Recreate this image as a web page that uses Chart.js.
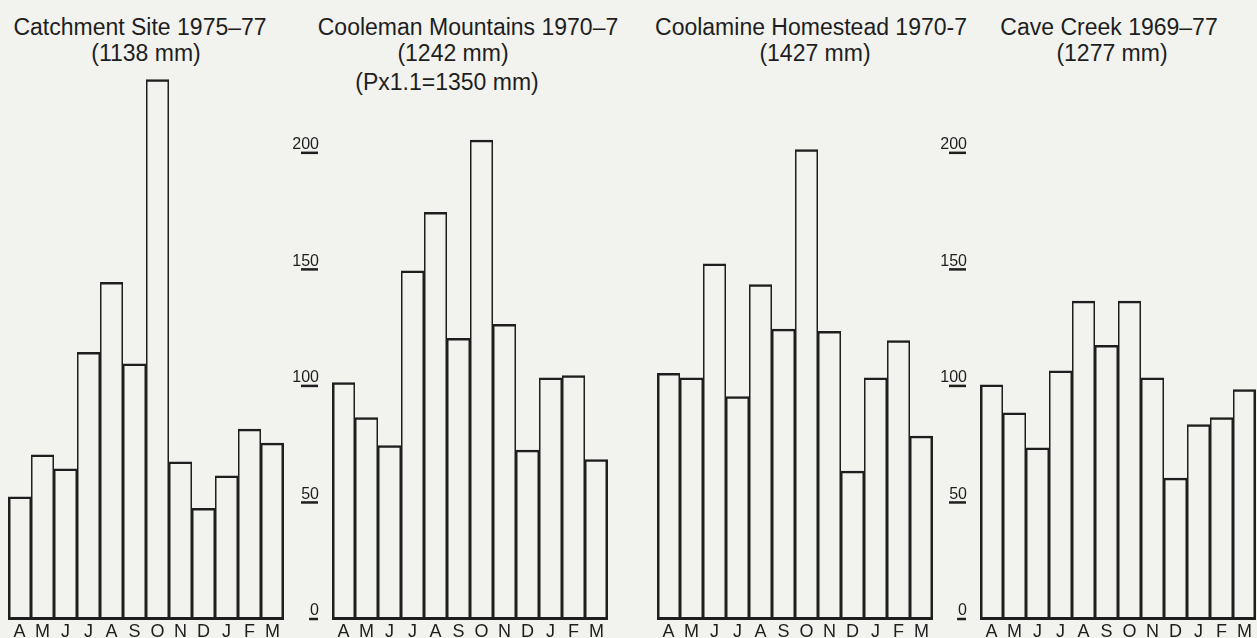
<!DOCTYPE html>
<html>
<head>
<meta charset="utf-8">
<script src="https://cdn.jsdelivr.net/npm/chart.js@4.4.1/dist/chart.umd.min.js"></script>
<style>
  html, body { margin: 0; padding: 0; }
  body {
    width: 1257px; height: 638px; overflow: hidden; position: relative;
    background: #f2f2ef; color: #1e1e1e;
    font-family: 'Liberation Sans', Arial, sans-serif;
  }
  canvas { position: absolute; top: 0; }
  .title { position: absolute; transform: translate(-50%, -50%); white-space: nowrap; font-size: 23px; line-height: 1; }
</style>
</head>
<body>

<div class="title" style="left:140px; top:27px;">Catchment Site 1975–77</div>
<div class="title" style="left:146px; top:53px;">(1138 mm)</div>

<div class="title" style="left:468px; top:27px;">Cooleman Mountains 1970–7</div>
<div class="title" style="left:453px; top:53px;">(1242 mm)</div>
<div class="title" style="left:447px; top:82px;">(Px1.1=1350 mm)</div>

<div class="title" style="left:811px; top:27px;">Coolamine Homestead 1970-7</div>
<div class="title" style="left:815px; top:53px;">(1427 mm)</div>

<div class="title" style="left:1109px; top:27px;">Cave Creek 1969–77</div>
<div class="title" style="left:1112px; top:53px;">(1277 mm)</div>

<canvas id="p1" width="276" height="646" style="left:8px"></canvas>
<canvas id="p2" width="323" height="646" style="left:285px"></canvas>
<canvas id="p3" width="276" height="646" style="left:657px"></canvas>
<canvas id="p4" width="323" height="646" style="left:933px"></canvas>

<script>
// monthly rainfall (mm), April to March
const months = ['A', 'M', 'J', 'J', 'A', 'S', 'O', 'N', 'D', 'J', 'F', 'M'];
const catchment = [53, 71, 65, 115, 145, 110, 232, 68, 48, 62, 82, 76];
const cooleman = [102, 87, 75, 150, 175, 121, 206, 127, 73, 104, 105, 69];
const coolamine = [106, 104, 153, 96, 144, 125, 202, 124, 64, 104, 120, 79];
const caveCreek = [101, 89, 74, 107, 137, 118, 137, 104, 61, 84, 87, 99];
const yTicks = [0, 50, 100, 150, 200];

const ink = '#1e1e1e';
const fontFamily = "'Liberation Sans', Arial, sans-serif";
const axisWidth = 47;

// underlines under the y tick labels, like the hand lettering
const underlinePlugin = {
    id: 'underline',
    afterDraw(chart) {
        const y = chart.scales.y;
        if (!y.options.display) return;
        const ctx = chart.ctx;
        ctx.save();
        ctx.strokeStyle = ink;
        ctx.lineWidth = 2.5;
        ctx.font = '16px ' + fontFamily;
        const right = y.right - y.options.ticks.padding;
        y.ticks.forEach(t => {
            const py = y.getPixelForValue(t.value) - 1;
            const w = Math.min(ctx.measureText(String(t.value)).width, 17);
            ctx.beginPath();
            ctx.moveTo(right - w - 1, py);
            ctx.lineTo(right - 1, py);
            ctx.stroke();
        });
        ctx.restore();
    }
};

function makePanel(id, values, showAxis) {
    const n = values.length;
    new Chart(document.getElementById(id), {
        type: 'bar',
        data: {
            labels: months,
            datasets: [{
                data: values,
                backgroundColor: 'rgba(0,0,0,0)',
                borderColor: ink,
                borderSkipped: false,
                inflateAmount: 0,
                borderWidth: ctx => ({
                    top: 2.5,
                    bottom: 3,
                    left: ctx.dataIndex === 0 ? 2.5 : 1.5,
                    right: ctx.dataIndex === n - 1 ? 2.5 : 1.5
                }),
                barPercentage: 1,
                categoryPercentage: 1
            }]
        },
        options: {
            responsive: false,
            animation: false,
            layout: { padding: 0 },
            plugins: { legend: { display: false }, tooltip: { enabled: false } },
            scales: {
                x: {
                    grid: { display: false, drawTicks: false },
                    border: { display: false },
                    ticks: { color: ink, padding: 1, maxRotation: 0, autoSkip: false, font: { size: 18, family: fontFamily } },
                    afterFit: s => { s.height = 26; s.paddingLeft = 0; s.paddingRight = 0; }
                },
                y: {
                    display: showAxis,
                    min: 0,
                    max: 266,
                    grid: { display: false, drawTicks: false },
                    border: { display: false },
                    ticks: { color: ink, padding: 13, labelOffset: -9, font: { size: 16, family: fontFamily } },
                    afterBuildTicks: s => { s.ticks = yTicks.map(v => ({ value: v })); },
                    afterFit: s => { s.width = showAxis ? axisWidth : 0; s.paddingTop = 0; s.paddingBottom = 0; }
                }
            }
        },
        plugins: [underlinePlugin]
    });
}

makePanel('p1', catchment, false);
makePanel('p2', cooleman, true);
makePanel('p3', coolamine, false);
makePanel('p4', caveCreek, true);
</script>
</body>
</html>
